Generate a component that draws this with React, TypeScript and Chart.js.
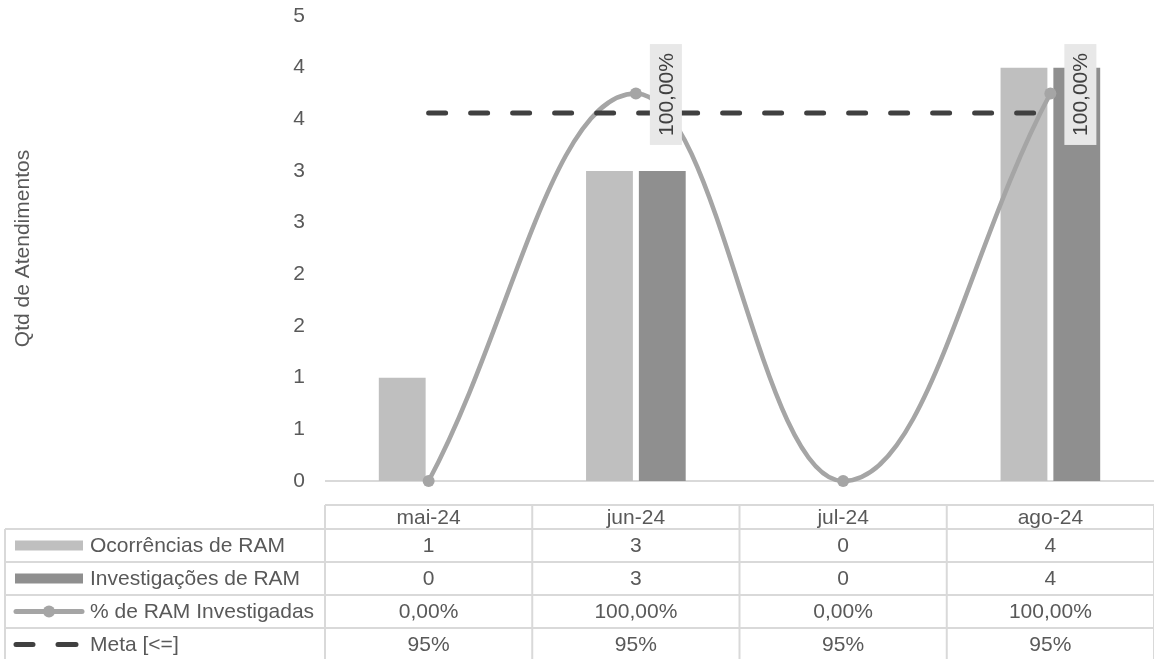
import React, { useEffect, useRef } from "react";
import { Chart, registerables } from "chart.js";

Chart.register(...registerables);

// ---- data ----
const categories = ["mai-24", "jun-24", "jul-24", "ago-24"];
const ocorrencias = [1, 3, 0, 4];
const investigacoes = [0, 3, 0, 4];
const pctInvestigadas = [0, 1, 0, 1];
const meta = [0.95, 0.95, 0.95, 0.95];
const seriesNames = ["Ocorrências de RAM", "Investigações de RAM", "% de RAM Investigadas", "Meta [<=]"];
const yTitle = "Qtd de Atendimentos";
const yMax = 4.5;
const yStep = 0.5;
const y2Max = 1.2;

// ---- styles ----
const FONT = '"Liberation Sans", Arial, sans-serif';
const FS = 21;
const TEXT = "#595959";
const GRID = "#d9d9d9";
const C_OCC = "#bfbfbf";
const C_INV = "#8f8f8f";
const C_PCT = "#a5a5a5";
const C_META = "#404040";

const fmtPct2 = (v: number) => (v * 100).toFixed(2).replace(".", ",") + "%";
const fmtPct0 = (v: number) => (v * 100).toFixed(0) + "%";
const fmtInt = (v: number) => String(v);

const extrasPlugin = {
  id: "extras",
  beforeDatasetsDraw(chart: any) {
    const { ctx, chartArea } = chart;
    ctx.save();
    ctx.strokeStyle = GRID;
    ctx.lineWidth = 2;
    ctx.beginPath();
    ctx.moveTo(chartArea.left, chartArea.bottom);
    ctx.lineTo(chartArea.right, chartArea.bottom);
    ctx.stroke();
    ctx.restore();
  },
  afterDatasetsDraw(chart: any) {
    const { ctx } = chart;
    const xs = chart.scales.x;
    const y2 = chart.scales.y2;
    ctx.save();
    ctx.font = `${FS}px ${FONT}`;
    pctInvestigadas.forEach((v, i) => {
      if (v <= 0) return;
      const px = xs.getPixelForValue(i);
      const py = y2.getPixelForValue(v);
      const text = fmtPct2(v);
      const w = ctx.measureText(text).width;
      const boxW = 32;
      const boxH = w + 18;
      ctx.save();
      ctx.translate(px + 14 + boxW / 2, py + 1);
      ctx.rotate(-Math.PI / 2);
      ctx.fillStyle = "#e8e8e8";
      ctx.fillRect(-boxH / 2, -boxW / 2, boxH, boxW);
      ctx.fillStyle = "#404040";
      ctx.textAlign = "center";
      ctx.textBaseline = "middle";
      ctx.fillText(text, 0, 1);
      ctx.restore();
    });
    ctx.restore();
  },
  afterDraw(chart: any) {
    const { ctx, chartArea } = chart;
    const xs = chart.scales.x;
    ctx.save();
    // y axis title
    ctx.save();
    ctx.translate(23, (chartArea.top + chartArea.bottom) / 2);
    ctx.rotate(-Math.PI / 2);
    ctx.font = `${FS}px ${FONT}`;
    ctx.fillStyle = TEXT;
    ctx.textAlign = "center";
    ctx.textBaseline = "middle";
    ctx.fillText(yTitle, 0, 0);
    ctx.restore();

    // data table
    const colW = (chartArea.right - chartArea.left) / categories.length;
    const headTop = chartArea.bottom + 24;
    const headBot = headTop + 24;
    const rowH = 33;
    const rows = 4;
    const tableBot = headBot + rowH * rows;
    const legLeft = 5;
    const left = chartArea.left;
    const right = chartArea.right;

    ctx.strokeStyle = GRID;
    ctx.lineWidth = 2;
    ctx.beginPath();
    ctx.moveTo(left, headTop);
    ctx.lineTo(right, headTop);
    for (let r = 0; r <= rows; r++) {
      const yy = headBot + r * rowH;
      ctx.moveTo(legLeft, yy);
      ctx.lineTo(right, yy);
    }
    for (let c = 0; c <= categories.length; c++) {
      const xx = left + c * colW;
      ctx.moveTo(xx, headTop);
      ctx.lineTo(xx, tableBot);
    }
    ctx.moveTo(legLeft, headBot);
    ctx.lineTo(legLeft, tableBot);
    ctx.stroke();

    ctx.font = `${FS}px ${FONT}`;
    ctx.fillStyle = TEXT;
    ctx.textBaseline = "middle";
    ctx.textAlign = "center";
    categories.forEach((c, i) => {
      ctx.fillText(c, xs.getPixelForValue(i), (headTop + headBot) / 2 + 1);
    });
    const rowValues = [
      ocorrencias.map(fmtInt),
      investigacoes.map(fmtInt),
      pctInvestigadas.map(fmtPct2),
      meta.map(fmtPct0),
    ];
    rowValues.forEach((vals, r) => {
      const cy = headBot + r * rowH + rowH / 2 + 1;
      ctx.fillStyle = TEXT;
      ctx.textAlign = "center";
      vals.forEach((t, i) => ctx.fillText(t, xs.getPixelForValue(i), cy));
      ctx.textAlign = "left";
      ctx.fillText(seriesNames[r], 90, cy);
      if (r === 0 || r === 1) {
        ctx.fillStyle = r === 0 ? C_OCC : C_INV;
        ctx.fillRect(15, cy - 6, 68, 10);
      } else if (r === 2) {
        ctx.strokeStyle = C_PCT;
        ctx.lineWidth = 5;
        ctx.lineCap = "round";
        ctx.beginPath();
        ctx.moveTo(16, cy - 1);
        ctx.lineTo(82, cy - 1);
        ctx.stroke();
        ctx.fillStyle = C_PCT;
        ctx.beginPath();
        ctx.arc(49, cy - 1, 6, 0, Math.PI * 2);
        ctx.fill();
      } else {
        ctx.strokeStyle = C_META;
        ctx.lineWidth = 5;
        ctx.lineCap = "round";
        ctx.beginPath();
        ctx.moveTo(16, cy - 1);
        ctx.lineTo(33, cy - 1);
        ctx.moveTo(58, cy - 1);
        ctx.lineTo(76, cy - 1);
        ctx.stroke();
      }
    });
    ctx.restore();
  },
};

export default function App() {
  const ref = useRef<HTMLCanvasElement | null>(null);
  useEffect(() => {
    if (!ref.current) return;
    const chart = new Chart(ref.current, {
      type: "bar",
      data: {
        labels: categories,
        datasets: [
          {
            type: "line",
            label: seriesNames[3],
            data: meta,
            yAxisID: "y2",
            borderColor: C_META,
            backgroundColor: C_META,
            borderWidth: 5,
            borderDash: [17, 25],
            borderCapStyle: "round",
            pointRadius: 0,
            fill: false,
            order: 0,
            clip: false,
          } as any,
          {
            type: "line",
            label: seriesNames[2],
            data: pctInvestigadas,
            yAxisID: "y2",
            borderColor: C_PCT,
            backgroundColor: C_PCT,
            borderWidth: 4.5,
            tension: 0.4,
            pointRadius: 6,
            pointBackgroundColor: C_PCT,
            pointBorderWidth: 0,
            fill: false,
            order: 1,
            clip: false,
          } as any,
          {
            type: "bar",
            label: seriesNames[0],
            data: ocorrencias,
            yAxisID: "y",
            backgroundColor: C_OCC,
            categoryPercentage: 0.5096,
            barPercentage: 0.8868,
            order: 2,
          } as any,
          {
            type: "bar",
            label: seriesNames[1],
            data: investigacoes,
            yAxisID: "y",
            backgroundColor: C_INV,
            categoryPercentage: 0.5096,
            barPercentage: 0.8868,
            order: 3,
          } as any,
        ],
      },
      options: {
        animation: false,
        responsive: false,
        maintainAspectRatio: false,
        layout: { padding: { top: 16, bottom: 178, left: 0, right: 3 } },
        plugins: { legend: { display: false }, tooltip: { enabled: false } },
        scales: {
          x: { display: false, offset: true },
          y: {
            min: 0,
            max: yMax,
            afterFit: (s: any) => {
              s.width = 325;
              s.paddingTop = 0;
              s.paddingBottom = 0;
            },
            grid: { display: false, drawTicks: false },
            border: { display: false },
            ticks: {
              stepSize: yStep,
              padding: 20,
              color: TEXT,
              font: { family: FONT, size: FS },
              callback: (v: any) => String(Math.round(Number(v))),
            },
          },
          y2: { display: false, min: 0, max: y2Max },
        },
      } as any,
      plugins: [extrasPlugin],
    });
    return () => chart.destroy();
  }, []);
  return (
    <div style={{ position: "fixed", left: 0, top: 0, width: 1154, height: 659, overflow: "hidden", background: "#fff" }}>
      <canvas ref={ref} width={1160} height={659} style={{ display: "block" }} />
    </div>
  );
}
